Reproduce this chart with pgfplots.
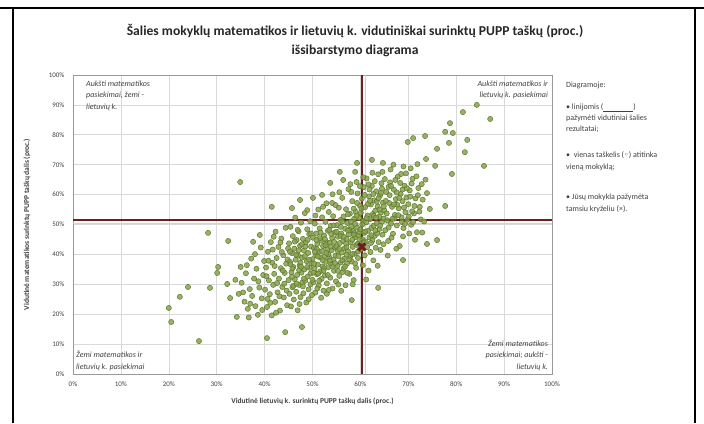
\documentclass[border=0pt]{standalone}
\usepackage{pgfplots}
\pgfplotsset{compat=1.18}
\usepackage{fontspec}
\setmainfont{Carlito}
\newfontfamily\symfont{DejaVu Sans}
\definecolor{ptfill}{HTML}{89A24C}
\definecolor{ptedge}{HTML}{5C7A2E}
\definecolor{avgline}{HTML}{6E1E1E}
\definecolor{gridc}{HTML}{D9D9D9}
\definecolor{txt}{HTML}{404040}

\begin{document}
\begin{tikzpicture}[x=1pt,y=1pt]
\useasboundingbox (0pt,0pt) rectangle (704pt,423pt);
% cell frame
\draw[line width=2.5pt] (0pt,415pt) -- (704pt,415pt);
\draw[line width=2.5pt] (13pt,0pt) -- (13pt,415pt);
\draw[line width=2.5pt] (695pt,0pt) -- (695pt,415pt);
% title
\node[font=\bfseries\fontsize{13.6}{16}\selectfont, text=black!85] at (355pt,392pt) {Šalies mokyklų matematikos ir lietuvių k. vidutiniškai surinktų PUPP taškų (proc.)};
\node[font=\bfseries\fontsize{13.6}{16}\selectfont, text=black!85] at (355pt,372pt) {išsibarstymo diagrama};
% side note
\begin{scope}[every node/.style={anchor=base west, inner sep=0pt, font=\fontsize{8}{10}\selectfont, text=txt}]
\node at (566pt,335pt) {Diagramoje:};
\node at (566pt,313pt) {• linijomis (\underline{\hspace{30pt}})};
\node at (566pt,302pt) {pažymėti vidutiniai šalies};
\node at (566pt,291pt) {rezultatai;};
\node at (566pt,265pt) {•\ \ vienas taškelis ({\symfont ◦}) atitinka};
\node at (566pt,253pt) {vieną mokyklą;};
\node at (566pt,223pt) {• Jūsų mokykla pažymėta};
\node at (566pt,211pt) {tamsiu kryželiu (×).};
\end{scope}

\begin{axis}[
  at={(73pt,49pt)}, anchor=south west,
  width=479pt, height=299pt, scale only axis,
  xmin=0, xmax=100, ymin=0, ymax=100,
  xtick={0,10,...,100}, ytick={0,10,...,100},
  xticklabel={\pgfmathprintnumber{\tick}\%},
  yticklabel={\pgfmathprintnumber{\tick}\%},
  /pgf/number format/assume math mode=true,
  tick label style={font=\fontsize{7}{8}\selectfont, text=txt},
  yticklabel style={xshift=-5pt},
  xticklabel style={yshift=-4pt},
  major tick length=0pt,
  grid=major, grid style={gridc, line width=0.6pt},
  axis line style={draw=black!40, line width=0.6pt},
  xlabel={Vidutinė lietuvių k. surinktų PUPP taškų dalis (proc.)},
  ylabel={Vidutinė matematikos surinktų PUPP taškų dalis (proc.)},
  label style={font=\bfseries\fontsize{7.5}{9}\selectfont, text=txt},
  xlabel style={at={(axis description cs:0.5,-0.09)}, anchor=center},
  ylabel style={at={(axis description cs:-0.096,0.5)}, anchor=center},
  clip=false,
]
% schools
\addplot[only marks, mark=*, mark size=2.6pt,
  mark options={fill=ptfill, draw=ptedge, line width=0.5pt, fill opacity=0.85}]
coordinates {
(28.2,47.2)(32.4,44.5)(30.3,35.8)(30.1,33.8)(24.0,29.1)(22.3,25.8)(20.0,22.1)(20.5,17.4)
(26.3,11.0)(28.6,28.8)(32.2,30.1)(32.8,25.4)(34.2,19.1)(40.5,12.0)(34.9,64.2)
(81.4,87.6)(87.1,85.3)(78.7,83.9)(77.7,81.0)(79.3,80.6)(82.3,78.3)(78.5,77.3)(81.8,74.2)
(73.5,79.6)(71.0,78.9)(69.9,77.6)(76.0,75.3)(73.7,71.9)(75.6,69.6)(85.8,69.6)(79.1,66.9)
(77.7,56.2)(74.5,55.2)(72.4,55.9)(73.9,60.5)(76.0,44.8)(73.9,43.5)(84.3,90.0)
(63.7,28.8)(58.2,24.7)(47.8,15.7)(44.3,14.0)(68.9,38.1)
(59.3,70.6)(62.4,71.6)(64.7,70.6)(55.7,67.6)(58.9,67.6)(53.7,63.9)(56.4,64.9)(52.0,59.9)
(50.1,58.9)(47.4,58.2)(45.7,55.5)(41.5,55.9)(48.9,54.8)(52.2,55.9)(54.1,57.2)
(35.2,30.5)(35.8,24.2)(36.1,33.7)(36.5,21.8)(36.9,28.4)(37.2,38.6)(37.4,26.1)(37.8,31.9)
(38.1,22.7)(38.3,35.2)(38.6,19.8)(38.9,28.9)(39.2,42.3)(39.4,25.3)(39.7,33.1)(39.9,37.8)
(35.5,27.3)(36.3,36.4)(37.0,23.5)(38.0,40.1)(38.7,31.0)(39.5,21.4)(36.7,18.9)(34.6,26.8)
(33.9,31.5)(35.0,35.8)(37.6,44.2)(39.0,46.5)
(40.1,28.2)(40.3,35.6)(40.5,22.4)(40.7,40.9)(40.9,31.3)(41.1,26.7)(41.3,44.1)(41.5,19.6)
(41.6,37.2)(41.8,29.8)(42.0,33.5)(42.2,24.1)(42.3,47.6)(42.5,38.8)(42.7,27.3)(42.9,42.5)
(43.0,31.9)(43.2,21.2)(43.4,35.4)(43.5,45.3)(43.7,29.1)(43.9,39.7)(44.0,25.6)(44.2,33.8)
(44.4,48.9)(44.5,36.9)(44.7,23.0)(44.9,42.0)(40.4,32.7)(40.8,37.9)(41.2,23.8)(41.7,41.6)
(42.1,36.1)(42.6,30.4)(43.1,26.0)(43.6,40.8)(44.1,30.2)(44.6,27.9)(43.3,44.0)(42.4,20.5)
(41.9,45.9)(40.6,25.1)(44.8,38.3)(43.8,34.6)
(45.0,31.4)(45.1,43.7)(45.2,26.8)(45.3,37.5)(45.4,49.2)(45.5,22.6)(45.6,34.0)(45.7,40.4)
(45.8,29.0)(45.9,46.1)(46.0,35.8)(46.1,24.9)(46.2,41.9)(46.3,31.7)(46.4,52.3)(46.5,38.2)
(46.6,27.5)(46.7,44.8)(46.8,33.1)(46.9,21.3)(47.0,39.6)(47.1,47.7)(47.2,29.8)(47.3,36.3)
(47.4,42.9)(47.5,25.7)(47.6,50.6)(47.7,33.9)(47.8,38.9)(47.9,30.6)(48.0,45.2)(48.1,27.0)
(48.2,41.3)(48.3,35.0)(48.4,53.8)(48.5,31.2)(48.6,44.0)(48.7,23.9)(48.8,37.7)(48.9,48.4)
(49.0,32.6)(49.1,40.5)(49.2,28.3)(49.3,46.8)(49.4,35.5)(49.5,51.1)(49.6,30.0)(49.7,42.6)
(49.8,37.1)(49.9,26.4)(45.4,36.7)(46.0,29.5)(46.6,39.9)(47.2,34.7)(47.8,43.4)(48.4,39.4)
(49.0,44.9)(49.6,33.6)(46.9,48.2)(48.2,31.9)(45.7,32.5)(47.5,37.2)
(50.0,38.4)(50.1,45.6)(50.2,30.7)(50.3,42.1)(50.4,35.2)(50.5,50.3)(50.6,27.2)(50.7,39.8)
(50.8,47.0)(50.9,33.4)(51.0,43.5)(51.1,36.6)(51.2,55.0)(51.3,29.6)(51.4,41.0)(51.5,48.7)
(51.6,34.3)(51.7,38.9)(51.8,44.6)(51.9,31.8)(52.0,52.4)(52.1,36.0)(52.2,42.8)(52.3,27.9)
(52.4,46.3)(52.5,39.3)(52.6,33.0)(52.7,50.9)(52.8,37.5)(52.9,44.0)(53.0,30.3)(53.1,41.7)
(53.2,47.9)(53.3,35.7)(53.4,54.2)(53.5,39.0)(53.6,43.9)(53.7,32.2)(53.8,49.5)(53.9,36.8)
(54.0,41.4)(54.1,45.5)(54.2,28.6)(54.3,52.8)(54.4,38.3)(54.5,34.5)(54.6,47.3)(54.7,42.3)
(54.8,56.5)(54.9,31.0)(50.3,36.9)(50.9,41.8)(51.5,45.4)(52.1,38.1)(52.7,43.1)(53.3,40.0)
(53.9,46.8)(54.5,44.2)(51.2,33.6)(52.4,35.4)(53.6,37.9)(54.8,39.6)(50.6,53.0)(52.9,57.1)
(51.8,25.5)(53.0,26.8)(54.2,60.1)(50.0,31.5)
(55.0,42.7)(55.1,49.8)(55.2,36.2)(55.3,45.9)(55.4,39.4)(55.5,55.6)(55.6,32.8)(55.7,43.8)
(55.8,51.5)(55.9,37.3)(56.0,47.0)(56.1,40.6)(56.2,58.9)(56.3,34.1)(56.4,44.5)(56.5,52.7)
(56.6,38.5)(56.7,42.0)(56.8,48.6)(56.9,29.7)(57.0,55.1)(57.1,45.3)(57.2,36.9)(57.3,50.5)
(57.4,41.1)(57.5,61.8)(57.6,46.7)(57.7,33.5)(57.8,53.6)(57.9,39.2)(58.0,44.0)(58.1,49.3)
(58.2,37.6)(58.3,57.8)(58.4,42.5)(58.5,47.8)(58.6,31.4)(58.7,51.9)(58.8,40.2)(58.9,45.8)
(59.0,54.3)(59.1,35.5)(59.2,43.2)(59.3,49.0)(59.4,60.4)(59.5,38.8)(59.6,46.4)(59.7,52.2)
(59.8,41.6)(59.9,56.3)(55.3,41.2)(55.9,46.2)(56.5,35.3)(57.1,39.9)(57.7,48.2)(58.3,44.9)
(58.9,50.2)(59.5,43.6)(56.2,51.0)(57.4,53.4)(58.6,55.3)(59.8,47.5)(55.6,60.8)(57.9,63.5)
(56.0,27.8)(58.4,30.0)(59.2,64.2)(57.0,43.6)
(60.0,48.4)(60.1,53.9)(60.2,41.9)(60.3,58.6)(60.4,45.1)(60.5,36.4)(60.6,51.2)(60.7,62.5)
(60.8,47.2)(60.9,39.7)(61.0,55.8)(61.1,44.3)(61.2,50.7)(61.3,65.4)(61.4,42.4)(61.5,53.0)
(61.6,47.9)(61.7,34.6)(61.8,59.4)(61.9,45.7)(62.0,51.8)(62.1,40.8)(62.2,56.7)(62.3,48.9)
(62.4,62.9)(62.5,44.7)(62.6,53.5)(62.7,38.0)(62.8,49.6)(62.9,58.1)(63.0,46.2)(63.1,54.6)
(63.2,42.2)(63.3,61.1)(63.4,50.4)(63.5,47.0)(63.6,56.0)(63.7,66.8)(63.8,44.1)(63.9,52.6)
(64.0,48.5)(64.1,59.7)(64.2,41.5)(64.3,54.0)(64.4,63.8)(64.5,50.9)(64.6,46.6)(64.7,57.3)
(64.8,43.4)(64.9,52.0)(60.4,50.0)(61.0,47.6)(61.6,56.9)(62.2,43.8)(62.8,52.9)(63.4,57.6)
(64.0,55.0)(60.7,44.0)(61.9,61.7)(63.1,48.0)(64.3,60.6)(62.5,67.3)(61.2,31.6)(63.6,36.2)
(65.0,54.7)(65.2,48.1)(65.4,60.9)(65.6,51.4)(65.8,44.5)(66.0,57.2)(66.2,64.1)(66.4,50.3)
(66.6,55.9)(66.8,46.9)(67.0,61.6)(67.2,53.2)(67.4,58.5)(67.6,49.7)(67.8,66.0)(68.0,55.4)
(68.2,42.8)(68.4,60.2)(68.6,52.4)(68.8,57.8)(69.0,48.8)(69.2,63.0)(69.4,54.1)(69.6,59.0)
(69.8,51.6)(65.3,57.9)(65.9,62.6)(66.5,45.6)(67.1,52.0)(67.7,56.6)(68.3,63.9)(68.9,46.0)
(69.5,67.1)(66.3,68.4)(67.5,41.9)(65.7,39.6)(68.7,50.8)
(70.0,56.8)(70.3,61.4)(70.6,49.9)(70.9,65.3)(71.2,53.7)(71.5,58.7)(71.8,47.4)(72.1,62.2)
(70.5,68.8)(71.4,44.9)(72.6,51.7)(73.0,58.3)(70.8,54.4)(72.9,47.3)
(58.1,60.9)(58.7,47.1)(59.3,57.2)(59.9,62.8)(60.2,55.3)(60.6,65.8)(60.9,59.9)(61.3,52.1)
(61.7,63.4)(62.0,57.9)(62.3,46.4)(62.7,60.2)(63.0,64.5)(63.3,52.3)(63.8,58.8)(64.1,49.6)
(64.5,62.0)(64.9,56.1)(65.1,65.2)(65.5,53.7)(65.9,49.0)(66.1,59.8)(66.4,62.9)(66.7,51.9)
(67.0,56.7)(67.3,64.9)(67.6,60.7)(67.9,53.1)(68.1,58.9)(68.5,66.9)(68.8,61.7)(69.1,55.7)
(69.3,50.2)(69.7,62.1)(70.1,52.6)(70.4,59.3)(70.7,63.7)(71.0,50.8)(71.3,56.2)(71.7,66.1)
(72.0,59.8)(72.3,54.3)(72.8,63.5)(73.3,51.0)(73.6,65.0)(70.2,47.0)(71.9,70.2)(69.0,69.4)
(66.9,70.0)(64.6,67.6)
(45.3,40.9)(45.8,35.3)(46.3,44.3)(46.7,30.2)(47.1,41.4)(47.6,35.9)(48.0,29.3)(48.5,42.6)
(48.9,35.8)(49.3,38.2)(49.7,47.0)(50.2,33.9)(50.5,40.9)(50.8,44.8)(51.1,39.3)(51.4,31.2)
(51.7,47.3)(52.0,41.1)(52.3,34.6)(52.6,45.1)(52.9,40.5)(53.2,33.1)(53.5,48.2)(53.8,42.6)
(54.1,35.9)(54.4,49.7)(54.7,37.1)(55.0,47.6)(55.3,34.5)(55.6,41.8)(55.9,49.2)(56.2,38.0)
(56.5,45.9)(56.8,35.9)(57.1,42.4)(57.4,48.0)(57.7,38.3)(58.0,51.0)(58.3,40.1)(58.6,46.6)
(58.9,37.0)(59.2,52.9)(59.5,41.0)(59.8,45.0)(57.3,33.8)(55.4,29.9)(53.4,28.1)(51.0,28.6)
(49.2,25.0)(47.3,23.4)
};
% national averages
\addplot[red!25, line width=1.5pt] coordinates {(0,50.4)(100,50.4)};
\addplot[red!25, line width=1.5pt] coordinates {(61.1,0)(61.1,100)};
\addplot[avgline, line width=2.5pt] coordinates {(0,51.5)(100,51.5)};
\addplot[avgline, line width=2.5pt] coordinates {(60.3,0)(60.3,100)};
% your school
\addplot[only marks, mark=x, mark size=5pt, avgline, line width=3pt] coordinates {(60.3,42.5)};
% quadrant notes
\node[anchor=north west, align=left, font=\itshape\fontsize{8}{11.5}\selectfont, text=txt, inner sep=1pt]
  at (axis description cs:0.025,0.985) {Aukšti matematikos\\pasiekimai, žemi -\\lietuvių k.};
\node[anchor=north east, align=right, font=\itshape\fontsize{8}{11.5}\selectfont, text=txt, inner sep=1pt]
  at (axis description cs:0.994,0.985) {Aukšti matematikos ir\\lietuvių k. pasiekimai};
\node[anchor=south west, align=left, font=\itshape\fontsize{8}{11.5}\selectfont, text=txt, inner sep=1pt]
  at (axis description cs:0.004,0.008) {Žemi matematikos ir\\lietuvių k. pasiekimai};
\node[anchor=south east, align=right, font=\itshape\fontsize{8}{11.5}\selectfont, text=txt, inner sep=1pt]
  at (axis description cs:0.994,0.008) {Žemi matematikos\\pasiekimai; aukšti -\\lietuvių k.};
\end{axis}
\end{tikzpicture}
\end{document}
